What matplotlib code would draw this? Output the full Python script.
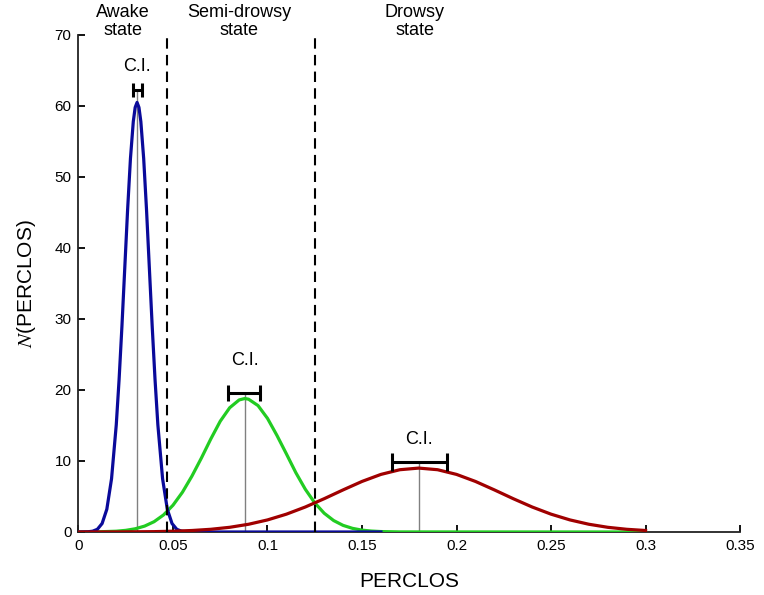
import matplotlib
matplotlib.use("Agg")
import matplotlib.pyplot as plt

plt.rcParams['font.family'] = ['Liberation Sans', 'DejaVu Sans']
plt.rcParams['mathtext.fontset'] = 'stix'

# values
awake_x = [0, 0.005, 0.0075, 0.01, 0.0125, 0.015, 0.0175, 0.02, 0.0215, 0.023,
           0.0245, 0.026, 0.0275, 0.029, 0.030, 0.031, 0.032, 0.033, 0.0345,
           0.036, 0.0375, 0.039, 0.0405, 0.042, 0.0445, 0.047, 0.0495, 0.052,
           0.0545, 0.057, 0.06, 0.16]
awake_y = [0, 0.03, 0.11, 0.38, 1.19, 3.2, 7.5, 15.1, 21.5, 29.0,
           37.2, 45.4, 52.6, 57.8, 59.8, 60.5, 59.8, 57.8, 52.6,
           45.4, 37.2, 29.0, 21.5, 15.1, 7.5, 3.2, 1.19, 0.38,
           0.11, 0.03, 0, 0]

semi_x = [0, 0.01, 0.02, 0.025, 0.03, 0.035, 0.04, 0.045, 0.05, 0.055, 0.06,
          0.065, 0.07, 0.075, 0.08, 0.085, 0.088, 0.09, 0.095, 0.1, 0.105,
          0.11, 0.115, 0.12, 0.125, 0.13, 0.135, 0.14, 0.145, 0.15, 0.155,
          0.16, 0.17, 0.3]
semi_y = [0, 0.02, 0.11, 0.23, 0.45, 0.83, 1.45, 2.4, 3.77, 5.6, 7.86,
          10.4, 13.1, 15.6, 17.5, 18.6, 18.8, 18.7, 17.8, 16.0, 13.6,
          11.0, 8.35, 6.02, 4.1, 2.64, 1.61, 0.93, 0.51, 0.26, 0.13,
          0.06, 0.01, 0]

drowsy_x = [0, 0.02, 0.04, 0.05, 0.06, 0.07, 0.08, 0.09, 0.1, 0.11, 0.12,
            0.13, 0.14, 0.15, 0.16, 0.17, 0.18, 0.19, 0.2, 0.21, 0.22, 0.23,
            0.24, 0.25, 0.26, 0.27, 0.28, 0.29, 0.3]
drowsy_y = [0, 0.01, 0.05, 0.11, 0.21, 0.38, 0.66, 1.09, 1.7, 2.51, 3.52,
            4.69, 5.93, 7.12, 8.11, 8.77, 9.0, 8.77, 8.11, 7.12, 5.93, 4.69,
            3.52, 2.51, 1.7, 1.09, 0.66, 0.38, 0.21]

means = [0.031, 0.088, 0.18]
ci_lo = [0.0287, 0.0793, 0.1657]
ci_hi = [0.0334, 0.096, 0.1948]
ci_y = [62.3, 19.6, 9.9]
ci_label_y = [65.6, 24.2, 13.0]
ci_caps = [5, 6, 6.3]

thresholds = [0.047, 0.125]
state_names = ["Awake\nstate", "Semi-drowsy\nstate", "Drowsy\nstate"]
state_x = [0.0235, 0.085, 0.178]

fig = plt.figure(figsize=(7.64, 5.95), dpi=100)
ax = fig.add_axes([0.1027, 0.1059, 0.866, 0.8353])

ax.plot(semi_x, semi_y, color='#22cc22', lw=2.3, zorder=3)
ax.plot(awake_x, awake_y, color='#0a0a9a', lw=2.3, zorder=4)
ax.plot(drowsy_x, drowsy_y, color='#a00000', lw=2.3, zorder=5)

ax.vlines(means, 0, ci_y, color='#808080', lw=1, zorder=2)
for i in range(3):
    c = (ci_lo[i] + ci_hi[i]) / 2
    ax.errorbar(c, ci_y[i], xerr=(ci_hi[i] - ci_lo[i]) / 2, fmt='none',
                ecolor='black', elinewidth=2.2, capsize=ci_caps[i],
                capthick=2.2, zorder=6)
    ax.text(means[i], ci_label_y[i], "C.I.", ha='center', va='center',
            fontsize=13)

for t in thresholds:
    ax.plot([t, t], [0, 70], color='black', lw=1.5, dashes=(5, 3), zorder=7)

for name, sx in zip(state_names, state_x):
    ax.text(sx, 71.9, name, ha='center', va='center', fontsize=13,
            linespacing=1.15, clip_on=False)

ax.set_xlim(0, 0.35)
ax.set_ylim(0, 70)
ax.set_xticks([0, 0.05, 0.1, 0.15, 0.2, 0.25, 0.3, 0.35])
ax.set_xticklabels(['0', '0.05', '0.1', '0.15', '0.2', '0.25', '0.3', '0.35'])
ax.set_yticks(range(0, 71, 10))
ax.spines['top'].set_visible(False)
ax.spines['right'].set_visible(False)
for s in ['left', 'bottom']:
    ax.spines[s].set_linewidth(1.3)
    ax.spines[s].set_color('#222222')
ax.tick_params(direction='in', length=5, width=1.3, labelsize=11, pad=5)

ax.set_xlabel("PERCLOS", fontsize=15, labelpad=14)
ax.set_ylabel("$N$(PERCLOS)", fontsize=15, labelpad=12)

fig.savefig("out.png", dpi=100)
